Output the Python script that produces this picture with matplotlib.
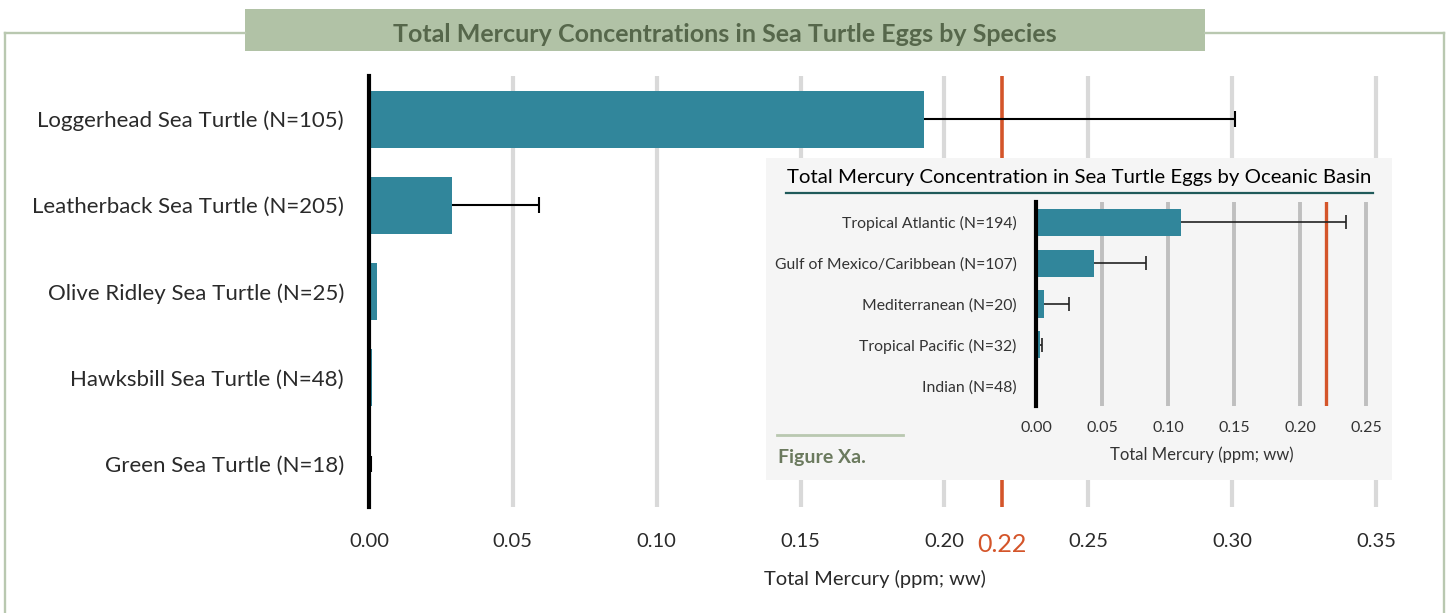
import numpy as np
import matplotlib.pyplot as plt
from matplotlib.patches import Rectangle
from matplotlib.lines import Line2D

# main chart data
species = ["Loggerhead Sea Turtle (N=105)", "Leatherback Sea Turtle (N=205)",
           "Olive Ridley Sea Turtle (N=25)", "Hawksbill Sea Turtle (N=48)",
           "Green Sea Turtle (N=18)"]
species_mean = [0.193, 0.029, 0.0029, 0.0012, 0.0002]
species_err = [0.108, 0.030, 0.0, 0.0, 0.0006]

# inset data
basins = ["Tropical Atlantic (N=194)", "Gulf of Mexico/Caribbean (N=107)",
          "Mediterranean (N=20)", "Tropical Pacific (N=32)", "Indian (N=48)"]
basin_mean = [0.110, 0.0437, 0.0057, 0.003, 0.0]
basin_err = [0.125, 0.040, 0.019, 0.0017, 0.0]

threshold = 0.22
main_ticks = [0.0, 0.05, 0.10, 0.15, 0.20, 0.25, 0.30, 0.35]
inset_ticks = [0.0, 0.05, 0.10, 0.15, 0.20, 0.25]

teal = "#31869b"
red = "#d4552a"
frame_green = "#b9c8b0"

plt.rcParams['font.family'] = ['Lato', 'DejaVu Sans']

fig = plt.figure(figsize=(14.49, 6.13), dpi=100)
W, H = 1449, 613

def fx(px):
    return px / W

def fy(py):
    return 1 - py / H

def one_sided_errorbar(a, vals, pos, errs, color, lw, cap):
    vals = np.asarray(vals)
    errs = np.asarray(errs)
    pos = np.asarray(pos)
    keep = errs > 0
    eb = a.errorbar(vals[keep], pos[keep], xerr=[np.zeros(keep.sum()), errs[keep]],
                    fmt="none", ecolor=color, elinewidth=lw, capsize=cap,
                    capthick=lw, zorder=4)
    eb[1][0].set_visible(False)

# outer frame
for xs, ys in [((5, 245), (33, 33)), ((1205, 1444), (33, 33)),
               ((5, 5), (33, 613)), ((1444, 1444), (33, 613))]:
    fig.add_artist(Line2D([fx(xs[0]), fx(xs[1])], [fy(ys[0]), fy(ys[1])],
                          color=frame_green, lw=1.7))

# title box
fig.add_artist(Rectangle((fx(245), fy(51)), fx(1205) - fx(245), fy(9) - fy(51),
                         facecolor="#b1c2a6", edgecolor="none"))
fig.text(fx(725), fy(34), "Total Mercury Concentrations in Sea Turtle Eggs by Species",
         ha="center", va="center", fontsize=18, fontweight="bold", color="#56674b")

# main axes
ax = fig.add_axes([fx(369), fy(507), fx(1381.7) - fx(369), fy(76) - fy(507)])
y = np.arange(len(species))
ax.barh(y, species_mean, height=0.66, color=teal, zorder=3)
one_sided_errorbar(ax, species_mean, y, species_err, "black", 1.5, 6)
ax.set_ylim(4.5, -0.5)
ax.set_xlim(0, 0.352)
ax.set_yticks(y)
ax.set_yticklabels(species, fontsize=16, color="#2a2a2a")
for v in main_ticks[1:]:
    ax.axvline(v, color="#d9d9d9", lw=3, zorder=1)
ax.axvline(threshold, color=red, lw=2.6, zorder=2)
ax.set_xticks(main_ticks + [threshold])
labels = [f"{v:.2f}" for v in main_ticks] + [f"{threshold:.2f}"]
ax.set_xticklabels(labels, fontsize=14.5, color="#2a2a2a")
lab = ax.get_xticklabels()[-1]
lab.set_color(red)
lab.set_fontsize(18)
ax.tick_params(length=0, pad=19)
ax.tick_params(axis="y", pad=18)
for s in ["top", "right", "bottom"]:
    ax.spines[s].set_visible(False)
ax.spines["left"].set_linewidth(3)
ax.spines["left"].set_zorder(5)
ax.set_xlabel("Total Mercury (ppm; ww)", fontsize=14.5, color="#2a2a2a", labelpad=10)

# inset panel
fig.add_artist(Rectangle((fx(766), fy(480)), fx(1392) - fx(766), fy(158) - fy(480),
                         facecolor="#f5f5f5", edgecolor="none", zorder=5))
fig.text(fx(1079), fy(177), "Total Mercury Concentration in Sea Turtle Eggs by Oceanic Basin",
         ha="center", va="center", fontsize=14.7, color="black", zorder=6)
fig.add_artist(Line2D([fx(786), fx(1373)], [fy(193), fy(193)], color="#1f5a5a", lw=1.6, zorder=6))
fig.add_artist(Line2D([fx(777), fx(903)], [fy(435), fy(435)], color=frame_green, lw=2.0, zorder=6))
fig.text(fx(778), fy(458), "Figure Xa.", ha="left", va="center", fontsize=14,
         fontweight="bold", color="#6b7a5e", zorder=6)

ax2 = fig.add_axes([fx(1036), fy(406), fx(1368.6) - fx(1036), fy(202) - fy(406)], zorder=7)
ax2.patch.set_visible(False)
yb = np.arange(len(basins))
ax2.barh(yb, basin_mean, height=0.67, color=teal, zorder=3)
one_sided_errorbar(ax2, basin_mean, yb, basin_err, "#222222", 1.2, 5)
ax2.set_ylim(4.5, -0.5)
ax2.set_xlim(0, 0.252)
for v in inset_ticks[1:]:
    ax2.axvline(v, color="#bfbfbf", lw=2.8, zorder=1)
ax2.axvline(threshold, color=red, lw=2.4, zorder=2)
ax2.set_yticks(yb)
ax2.set_yticklabels(basins, fontsize=11.3, color="#333333")
ax2.set_xticks(inset_ticks)
ax2.set_xticklabels([f"{v:.2f}" for v in inset_ticks], fontsize=11.5, color="#333333")
ax2.tick_params(length=0, pad=11)
ax2.tick_params(axis="y", pad=14)
for s in ["top", "right", "bottom"]:
    ax2.spines[s].set_visible(False)
ax2.spines["left"].set_linewidth(3)
ax2.spines["left"].set_zorder(5)
ax2.set_xlabel("Total Mercury (ppm; ww)", fontsize=12, color="#333333", labelpad=8)

fig.savefig("out.png", dpi=100)
